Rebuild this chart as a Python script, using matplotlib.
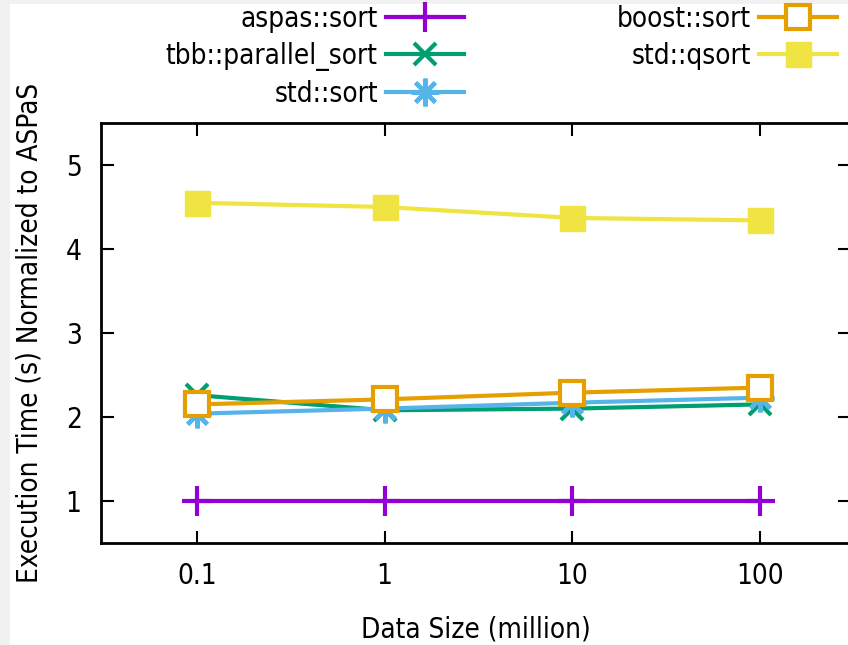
import matplotlib
matplotlib.use('Agg')
import matplotlib.pyplot as plt
from matplotlib.patches import Rectangle

# data
sizes = [0.1, 1, 10, 100]
size_labels = ['0.1', '1', '10', '100']
aspas_sort = [1.0, 1.0, 1.0, 1.0]
tbb_sort = [2.26, 2.08, 2.10, 2.15]
std_sort = [2.04, 2.10, 2.17, 2.23]
boost_sort = [2.15, 2.21, 2.29, 2.35]
std_qsort = [4.55, 4.50, 4.37, 4.34]

plt.rcParams['font.family'] = ['DejaVu Sans']
plt.rcParams['font.stretch'] = 'condensed'
fs = 20

fig = plt.figure(figsize=(8.48, 6.45), dpi=100, facecolor='#f1f1f1')
fig.patches.append(Rectangle((10 / 848, 0), 1, 1 - 4 / 645, transform=fig.transFigure,
                             facecolor='white', edgecolor='none', zorder=-10))

ax = fig.add_axes([101 / 848, 1 - 543 / 645, 749 / 848, 420 / 645])
ax.set_facecolor('none')

lw = 3
ax.plot(sizes, aspas_sort, color='#9400d3', lw=lw, marker='+', ms=22, mew=3,
        label='aspas::sort')
ax.plot(sizes, tbb_sort, color='#009e73', lw=lw, marker='x', ms=16, mew=3,
        label='tbb::parallel_sort')
ax.plot(sizes, std_sort, color='#56b4e9', lw=lw, marker=(8, 2, 0), ms=20, mew=3,
        label='std::sort')
ax.plot(sizes, boost_sort, color='#e69f00', lw=lw, marker='s', ms=17, mew=3,
        mfc='white', label='boost::sort')
ax.plot(sizes, std_qsort, color='#f0e442', lw=lw, marker='s', ms=18,
        label='std::qsort')

ax.set_xscale('log')
ax.set_xlim(0.1 / 10 ** (96 / 187.7), 100 * 10 ** (90 / 187.7))
ax.set_ylim(0.5, 5.5)
ax.set_xticks(sizes)
ax.set_xticklabels(size_labels)
ax.minorticks_off()
ax.set_yticks([1, 2, 3, 4, 5])
ax.tick_params(direction='in', length=9, width=1.5, top=True, right=True,
               labelsize=fs, pad=14)
for s in ax.spines.values():
    s.set_linewidth(2)

ax.set_xlabel('Data Size (million)', fontsize=fs, labelpad=18)
ax.set_ylabel('Execution Time (s) Normalized to ASPaS', fontsize=fs, labelpad=16)

fig.legend(loc='upper right', bbox_to_anchor=(837 / 848, 1 - 5 / 645), ncol=2,
           frameon=False, markerfirst=False, fontsize=fs, handlelength=2.8,
           handletextpad=0.3, columnspacing=5.5, labelspacing=0.32,
           borderaxespad=0.0, borderpad=0.0)

fig.savefig('out.png', dpi=100, facecolor=fig.get_facecolor())
